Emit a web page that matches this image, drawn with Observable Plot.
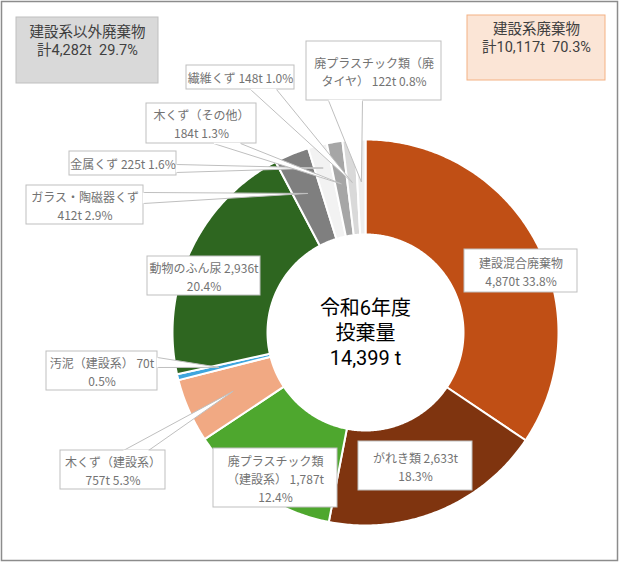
<!DOCTYPE html>
<html><head><meta charset="utf-8">
<script src="https://cdn.jsdelivr.net/npm/d3@7"></script>
<script src="https://cdn.jsdelivr.net/npm/@observablehq/plot@0.6"></script>
<style>body{margin:0;background:#fff}</style>
</head><body><div id="chart"></div>
<script>
// ---- data ----
const categories = ["建設混合廃棄物","がれき類","廃プラスチック類（建設系）","木くず（建設系）","汚泥（建設系）","動物のふん尿","ガラス・陶磁器くず","金属くず","木くず（その他）","繊維くず","廃プラスチック類（廃タイヤ）"];
const values = [4870,2633,1787,757,70,2936,412,225,184,148,122];
const percents = [33.8,18.3,12.4,5.3,0.5,20.4,2.9,1.6,1.3,1.0,0.8];
const sliceColors = ["#C04F15","#7F340F","#4EA72E","#F1A983","#3FA6DE","#2E6620","#7F7F7F","#F2F2F2","#A6A6A6","#D9D9D9","#EEEEEE"];
const labelTexts = [
  "建設混合廃棄物\n4,870t 33.8%",
  "がれき類 2,633t\n18.3%",
  "廃プラスチック類\n（建設系） 1,787t\n12.4%",
  "木くず（建設系）\n757t 5.3%",
  "汚泥（建設系） 70t\n0.5%",
  "動物のふん尿 2,936t\n20.4%",
  "ガラス・陶磁器くず\n412t 2.9%",
  "金属くず 225t 1.6%",
  "木くず（その他）\n184t 1.3%",
  "繊維くず 148t 1.0%",
  "廃プラスチック類（廃\nタイヤ） 122t 0.8%"
];
const groupNames = ["建設系以外廃棄物","建設系廃棄物"];
const groupTotals = ["計4,282t  29.7%","計10,117t  70.3%"];
const centerLines = ["令和6年度","投棄量","14,399 t"];

// ---- layout ----
const W = 619, H = 562, CX = 365, CY = 332, R_OUT = 193, R_IN = 98;
const FONT = "'Noto Sans CJK JP','Noto Sans',sans-serif";
const FONT2 = "Roboto,'Noto Sans CJK JP',sans-serif";
const labelLayout = [
  {box:[464,249,577,292]},
  {box:[358,441,472,490]},
  {box:[213,448,337,507]},
  {box:[60,450,165,489], base:[[123,450],[148,450]], tipR:0.75},
  {box:[46,351,157,390], base:[[157,357],[157,367]], tipR:0.78},
  {box:[147,256,260,295]},
  {box:[26,185,143,224], base:[[143,192],[143,203]], tipR:0.78},
  {box:[69,151,176,175], base:[[176,164],[176,172]], tipR:0.88},
  {box:[146,103,256,143], base:[[213,143],[240,143]], tipR:0.78},
  {box:[186,65,294,89], base:[[250,89],[276,89]], tipR:0.78},
  {box:[306,41,441,100], base:[[328,100],[362,100]], tipR:0.78}
];
const groupLayout = [
  {box:[16,17,158,83], fill:"#D9D9D9", stroke:"#BFBFBF", ty:[32,50]},
  {box:[467,15,605,80], fill:"#FBE5D6", stroke:"#F4B183", ty:[29,47]}
];
const centerY = [308,333,358];

// ---- geometry from data ----
const data = categories.map((c,i)=>({category:c, value:values[i], color:sliceColors[i], i}));
const arcs = d3.pie().sort(null).value(d=>d.value)(data);
const px = (r,t)=>CX + r*Math.sin(t);
const py = (r,t)=>CY - r*Math.cos(t);
const slicePts = [];
arcs.forEach(a=>{
  const n = Math.max(2, Math.ceil((a.endAngle-a.startAngle)/0.01));
  for (let k=0;k<=n;k++){const t=a.startAngle+(a.endAngle-a.startAngle)*k/n; slicePts.push({id:a.data.i,x:px(R_OUT,t),y:py(R_OUT,t),color:a.data.color});}
  for (let k=n;k>=0;k--){const t=a.startAngle+(a.endAngle-a.startAngle)*k/n; slicePts.push({id:a.data.i,x:px(R_IN,t),y:py(R_IN,t),color:a.data.color});}
});
const pointerPts = [];
const baseLinks = [];
arcs.forEach(a=>{
  const L = labelLayout[a.data.i];
  if (!L.base) return;
  const mid = (a.startAngle+a.endAngle)/2;
  const r = L.tipR*R_OUT;
  pointerPts.push({id:a.data.i,x:L.base[0][0],y:L.base[0][1]});
  pointerPts.push({id:a.data.i,x:px(r,mid),y:py(r,mid)});
  pointerPts.push({id:a.data.i,x:L.base[1][0],y:L.base[1][1]});
  baseLinks.push({x1:L.base[0][0],y1:L.base[0][1],x2:L.base[1][0],y2:L.base[1][1]});
});
const labelRows = labelLayout.map((L,i)=>({x1:L.box[0],y1:L.box[1],x2:L.box[2],y2:L.box[3],cx:(L.box[0]+L.box[2])/2,cy:(L.box[1]+L.box[3])/2,text:labelTexts[i]}));
const groupRows = groupLayout.map((G,i)=>({x1:G.box[0],y1:G.box[1],x2:G.box[2],y2:G.box[3],cx:(G.box[0]+G.box[2])/2,fill:G.fill,stroke:G.stroke}));
const groupText = [];
groupLayout.forEach((G,i)=>{
  const cx=(G.box[0]+G.box[2])/2;
  groupText.push({x:cx,y:G.ty[0],text:groupNames[i]});
  groupText.push({x:cx,y:G.ty[1],text:groupTotals[i]});
});
const centerRows = centerLines.map((t,i)=>({x:CX,y:centerY[i],text:t}));

const chart = Plot.plot({
  width: W, height: H, margin: 0,
  x: {domain:[0,W], range:[0,W], axis:null},
  y: {domain:[0,H], range:[0,H], axis:null},
  color: {type:"identity"},
  style: {fontFamily: FONT, background:"#fff"},
  marks: [
    Plot.line(slicePts, {x:"x", y:"y", z:"id", fill:"color", stroke:"#fff", strokeWidth:2, curve:"linear-closed"}),
    Plot.line(pointerPts, {x:"x", y:"y", z:"id", fill:"#fff", stroke:"#BFBFBF", strokeWidth:1, curve:"linear-closed"}),
    Plot.rect(labelRows, {x1:"x1", x2:"x2", y1:"y1", y2:"y2", fill:"#fff", stroke:"#BFBFBF", strokeWidth:1}),
    Plot.link(baseLinks, {x1:"x1", y1:"y1", x2:"x2", y2:"y2", stroke:"#fff", strokeWidth:1.5}),
    Plot.text(labelRows, {x:"cx", y:"cy", text:"text", fontSize:12, fill:"#737373", lineHeight:1.5, lineAnchor:"middle", fontFamily:FONT}),
    Plot.rect(groupRows, {x1:"x1", x2:"x2", y1:"y1", y2:"y2", fill:"fill", stroke:"stroke", strokeWidth:1}),
    Plot.text(groupText, {x:"x", y:"y", text:"text", fontSize:14.5, fill:"#404040", lineAnchor:"middle", fontFamily:FONT2}),
    Plot.text(centerRows, {x:"x", y:"y", text:"text", fontSize:20, fill:"#000", lineAnchor:"middle", fontFamily:FONT2}),
    Plot.frame({stroke:"#8C8C8C", strokeWidth:1.5, insetLeft:1, insetTop:1, insetRight:2, insetBottom:2})
  ]
});
document.getElementById("chart").appendChild(chart);
</script>
</body></html>
